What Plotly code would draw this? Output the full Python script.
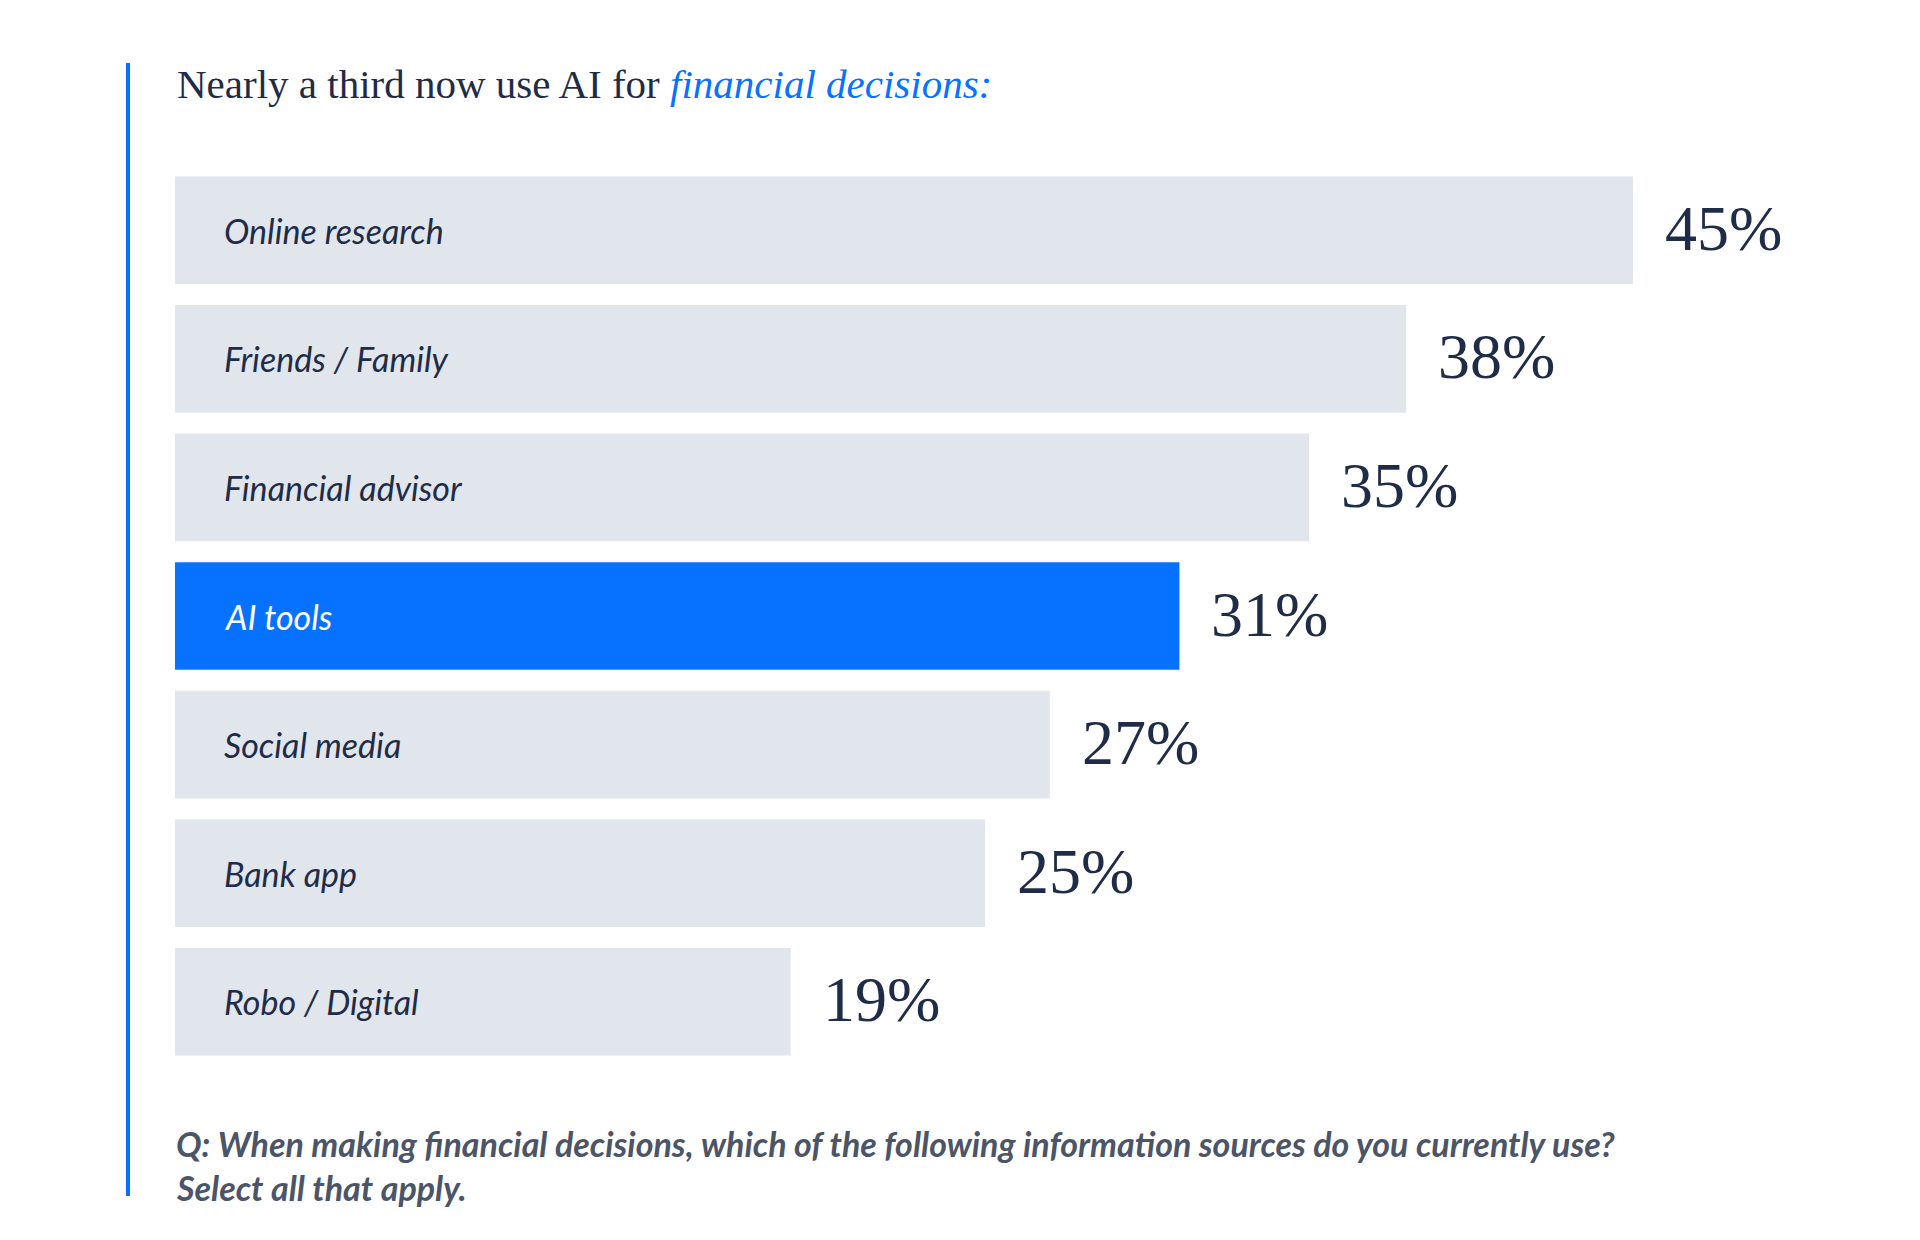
import plotly.graph_objects as go

categories = ["Online research", "Friends / Family", "Financial advisor", "AI tools",
              "Social media", "Bank app", "Robo / Digital"]
values = [45, 38, 35, 31, 27, 25, 19]
highlight = "AI tools"

title_plain = "Nearly a third now use AI for "
title_em = "financial decisions:"
note_line1 = "Q: When making financial decisions, which of the following information sources do you currently use?"
note_line2 = "Select all that apply."

BLUE = "#0772ff"
GRAY = "#e1e5ec"
DARK = "#1f2c47"
NOTE = "#4b5567"

W, H = 1920, 1240
ML, MR, MT, MB = 167, 133, 158, 182
PH = H - MT - MB
PW = W - ML - MR

def py(px):
    return (H - MB - px) / PH

def pxx(px):
    return (px - ML) / PW

colors = [BLUE if c == highlight else GRAY for c in categories]

fig = go.Figure(go.Bar(
    x=values, y=categories, orientation="h",
    marker=dict(color=colors, line=dict(width=0)),
    hoverinfo="skip",
))

ann = []
for c, v in zip(categories, values):
    ann.append(dict(
        x=0, y=c, xref="x", yref="y", text=c, showarrow=False,
        xanchor="left", yanchor="middle", xshift=47,
        font=dict(family="Lato", size=34, style="italic",
                  color="#ffffff" if c == highlight else DARK),
    ))
    ann.append(dict(
        x=v, y=c, xref="x", yref="y", text=f"{v}%", showarrow=False,
        xanchor="left", yanchor="middle", xshift=30, yshift=2,
        font=dict(family="Liberation Serif", size=64, color=DARK),
    ))

ann.append(dict(
    x=pxx(167), y=py(76), xref="paper", yref="paper", showarrow=False,
    xanchor="left", yanchor="middle",
    text=f"<span style='color:{DARK}'>{title_plain}</span>"
         f"<i><span style='color:{BLUE}'>{title_em}</span></i>",
    font=dict(family="Liberation Serif", size=41, color=DARK),
))
for txt, ypx in [(note_line1, 1135), (note_line2, 1179)]:
    ann.append(dict(
        x=pxx(166), y=py(ypx), xref="paper", yref="paper", showarrow=False,
        xanchor="left", yanchor="middle", text=txt,
        font=dict(family="Lato", size=34, style="italic", weight="bold", color=NOTE),
    ))

fig.add_shape(type="line", xref="paper", yref="paper",
              x0=pxx(120), x1=pxx(120), y0=py(55), y1=py(1188),
              line=dict(color=BLUE, width=4))

fig.update_layout(
    width=W, height=H,
    margin=dict(l=ML, r=MR, t=MT, b=MB),
    paper_bgcolor="white", plot_bgcolor="white",
    bargap=0.163,
    showlegend=False,
    annotations=ann,
    xaxis=dict(range=[0, 50], visible=False, fixedrange=True),
    yaxis=dict(autorange="reversed", visible=False, fixedrange=True),
)

fig.write_html("out.html", config={"displayModeBar": False})
